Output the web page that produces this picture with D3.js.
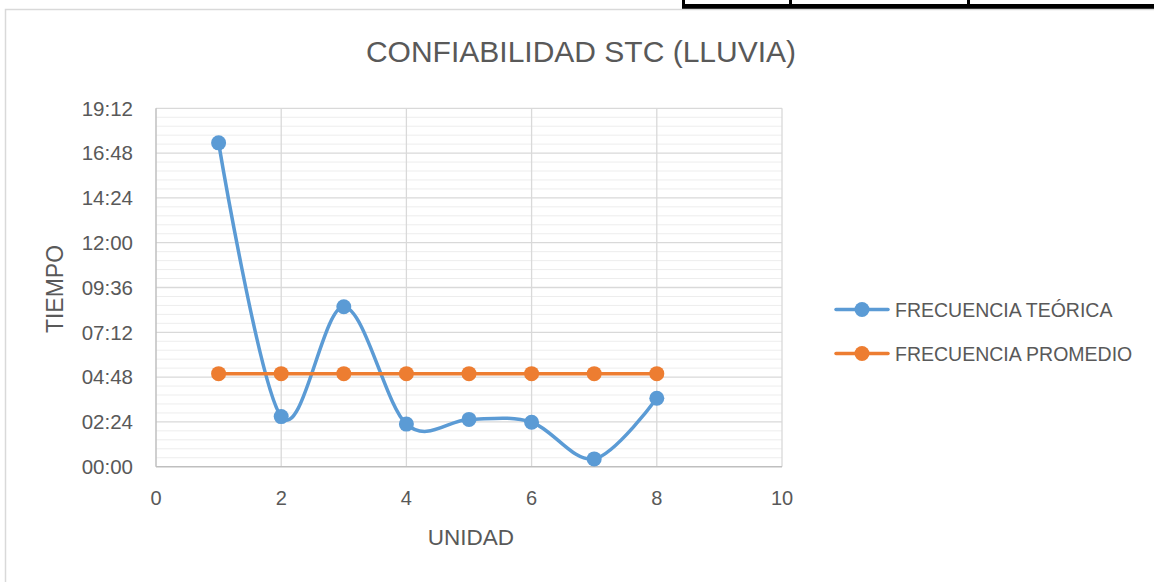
<!DOCTYPE html>
<html><head><meta charset="utf-8">
<script src="https://cdn.jsdelivr.net/npm/d3@7"></script>
<style>body{margin:0;background:#fff;} svg{display:block;} text{font-family:"Liberation Sans",Arial,sans-serif;fill:#595959;}</style>
</head><body>
<svg id="c" width="1154" height="582"></svg>
<script>
// Data (x = unidad, y = time of day)
const units = [1, 2, 3, 4, 5, 6, 7, 8];
const teorica = ["17:21", "02:41", "08:34", "02:17", "02:32", "02:23", "00:25", "03:40"];
const promedio = ["04:59", "04:59", "04:59", "04:59", "04:59", "04:59", "04:59", "04:59"];
const seriesNames = ["FRECUENCIA TEÓRICA", "FRECUENCIA PROMEDIO"];
const xTicks = [0, 2, 4, 6, 8, 10];
const yTickLabels = ["00:00", "02:24", "04:48", "07:12", "09:36", "12:00", "14:24", "16:48", "19:12"];

const toDays = s => { const [h, m] = s.split(":").map(Number); return (h + m / 60) / 24; };
const svg = d3.select("#c");

// spreadsheet cell borders peeking at top
svg.append("rect").attr("x", 683).attr("y", 4).attr("width", 480).attr("height", 5).attr("fill", "#000");
[683, 790, 968].forEach(x => svg.append("rect").attr("x", x - 1).attr("y", 0).attr("width", 3).attr("height", 9).attr("fill", "#000"));

// chart area border
svg.append("rect").attr("x", 5.5).attr("y", 9.5).attr("width", 1160).attr("height", 600)
  .attr("fill", "#fff").attr("stroke", "#D9D9D9").attr("stroke-width", 1.5);

const L = 156, R = 782, T = 108.3, B = 466.7;
const x = d3.scaleLinear().domain([0, 10]).range([L, R]);
const yMax = toDays(yTickLabels[yTickLabels.length - 1]);
const y = d3.scaleLinear().domain([0, yMax]).range([B, T]);
const yTicks = yTickLabels.map(toDays);

// minor gridlines
const minor = [];
for (let i = 0; i < yTicks.length - 1; i++) {
  const step = (yTicks[i + 1] - yTicks[i]) / 5;
  for (let k = 1; k < 5; k++) minor.push(yTicks[i] + k * step);
}
svg.append("g").selectAll("line").data(minor).join("line")
  .attr("x1", L).attr("x2", R).attr("y1", d => y(d)).attr("y2", d => y(d))
  .attr("stroke", "#EDEDED").attr("stroke-width", 1);

// major gridlines
svg.append("g").selectAll("line").data(yTicks.slice(1)).join("line")
  .attr("x1", L).attr("x2", R).attr("y1", d => y(d)).attr("y2", d => y(d))
  .attr("stroke", "#D9D9D9").attr("stroke-width", 1.3);
svg.append("g").selectAll("line").data(xTicks.slice(1)).join("line")
  .attr("x1", d => x(d)).attr("x2", d => x(d)).attr("y1", T).attr("y2", B)
  .attr("stroke", "#D9D9D9").attr("stroke-width", 1.3);

// axes lines
svg.append("line").attr("x1", L).attr("x2", L).attr("y1", T).attr("y2", B).attr("stroke", "#BFBFBF").attr("stroke-width", 1.5);
svg.append("line").attr("x1", L).attr("x2", R).attr("y1", B).attr("y2", B).attr("stroke", "#BFBFBF").attr("stroke-width", 1.5);

// tick labels
svg.append("g").selectAll("text").data(yTickLabels).join("text")
  .attr("x", 133).attr("y", d => y(toDays(d))).attr("dy", "0.36em").attr("text-anchor", "end")
  .style("font-size", "20.5px").text(d => d);
svg.append("g").selectAll("text").data(xTicks).join("text")
  .attr("x", d => x(d)).attr("y", 505).attr("text-anchor", "middle")
  .style("font-size", "20px").text(d => d);

// titles
svg.append("text").attr("x", 581).attr("y", 62).attr("text-anchor", "middle").style("font-size", "30px").text("CONFIABILIDAD STC (LLUVIA)");
svg.append("text").attr("x", 471).attr("y", 545).attr("text-anchor", "middle").style("font-size", "22.5px").text("UNIDAD");
svg.append("text").attr("transform", "translate(63,289) rotate(-90)").attr("text-anchor", "middle").style("font-size", "23px").text("TIEMPO");

// series
const colors = ["#5B9BD5", "#ED7D31"];
const series = [teorica, promedio].map(arr => units.map((u, i) => [u, toDays(arr[i])]));
const line = d3.line().x(d => x(d[0])).y(d => y(d[1])).curve(d3.curveCardinal.tension(0));
series.forEach((s, i) => {
  svg.append("path").datum(s).attr("d", line).attr("fill", "none").attr("stroke", colors[i]).attr("stroke-width", 3.5).attr("stroke-linecap", "round");
  svg.append("g").selectAll("circle").data(s).join("circle")
    .attr("cx", d => x(d[0])).attr("cy", d => y(d[1])).attr("r", 7.5).attr("fill", colors[i]);
});

// legend
seriesNames.forEach((n, i) => {
  const ly = 309.5 + i * 44;
  svg.append("line").attr("x1", 836).attr("x2", 888).attr("y1", ly).attr("y2", ly).attr("stroke", colors[i]).attr("stroke-width", 3.5).attr("stroke-linecap", "round");
  svg.append("circle").attr("cx", 862).attr("cy", ly).attr("r", 7.5).attr("fill", colors[i]);
  svg.append("text").attr("x", 895).attr("y", ly).attr("dy", "0.36em").style("font-size", "19.5px").text(n);
});
</script>
</body></html>
